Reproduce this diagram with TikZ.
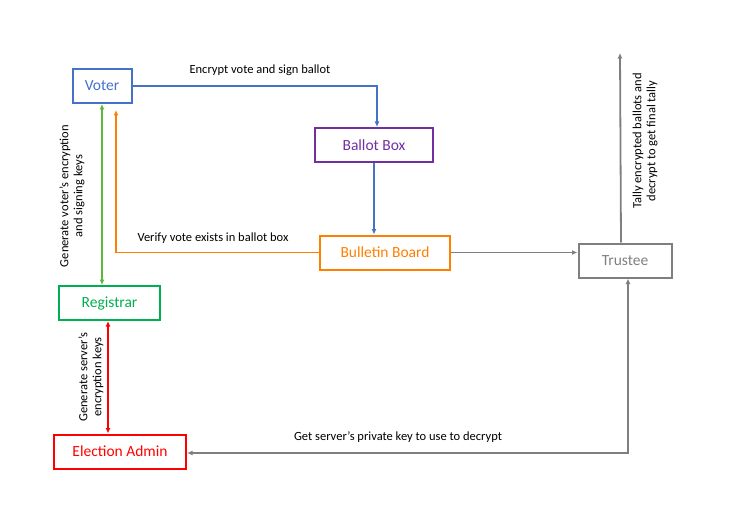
\documentclass[tikz,border=0pt]{standalone}
\usepackage{fontspec}
\setmainfont{Carlito}
\usepackage{xcolor}
\usetikzlibrary{arrows.meta}
\definecolor{voterblue}{HTML}{4472C4}
\definecolor{boxpurple}{HTML}{7030A0}
\definecolor{boardorange}{HTML}{FF7F00}
\definecolor{regigreen}{HTML}{00B050}
\definecolor{keygreen}{HTML}{5DB83A}
\definecolor{adminred}{HTML}{FF0000}
\definecolor{trustgray}{HTML}{7F7F7F}

\begin{document}
\begin{tikzpicture}[x=1pt, y=-1pt,
    box/.style={rectangle, draw, line width=2pt, minimum height=34pt, inner sep=2pt, font=\fontsize{15.5}{18}\selectfont},
    lbl/.style={font=\fontsize{12.5}{14}\selectfont, align=center, inner sep=1pt},
    link/.style={line width=1.8pt, -{Latex[length=5.5pt,width=5pt]}},
    both/.style={{Latex[length=5.5pt,width=5pt]}-{Latex[length=5.5pt,width=5pt]}}]
    \useasboundingbox (0,0) rectangle (736,513);

    \node[box, draw=voterblue, text=voterblue, minimum width=59pt] (voter) at (102,86) {Voter};
    \node[box, draw=boxpurple, text=boxpurple, minimum width=118pt] (ballot) at (374,145) {Ballot Box};
    \node[box, draw=boardorange, text=boardorange, minimum width=130pt] (board) at (385,252.5) {Bulletin Board};
    \node[box, draw=trustgray, text=trustgray, minimum width=93pt] (trustee) at (625,260.5) {Trustee};
    \node[box, draw=regigreen, text=regigreen, minimum width=101pt] (registrar) at (109.5,303) {Registrar};
    \node[box, draw=adminred, text=adminred, minimum width=132pt] (admin) at (120,451.5) {Election Admin};

    \coordinate (tally) at (620,53);
    \coordinate (verify) at (116,110);

    \draw[link, voterblue] (voter.east) -| (ballot.north -| 377,0);
    \draw[link, voterblue] (ballot.south) -- (board.north -| ballot.south);
    \draw[link, boardorange] (board.west) -| (verify);
    \draw[link, keygreen, both] (voter.south -| 102,0) -- (registrar.north -| 102,0);
    \draw[link, adminred, both] (registrar.south -| 108,0) -- (admin.north -| 108,0);
    \draw[link, trustgray] (board.east) -- (trustee.west |- board.east);
    \draw[link, trustgray] (trustee.north -| 621,0) -- (tally);
    \draw[link, trustgray, both] (trustee.south -| 628,0) |- (admin.east |- 0,453);

    \node[lbl] (encrypt) at (260,70) {Encrypt vote and sign ballot};
    \node[lbl] (verifylbl) at (213,238) {Verify vote exists in ballot box};
    \node[lbl, rotate=90] (voterkeys) at (72,196) {Generate voter's encryption\\and signing keys};
    \node[lbl, rotate=90] (serverkeys) at (91,377) {Generate server's\\encryption keys};
    \node[lbl, rotate=90] (tallylbl) at (645,141) {Tally encrypted ballots and\\decrypt to get final tally};
    \node[lbl] (privkey) at (398,437) {Get server's private key to use to decrypt};
\end{tikzpicture}
\end{document}
